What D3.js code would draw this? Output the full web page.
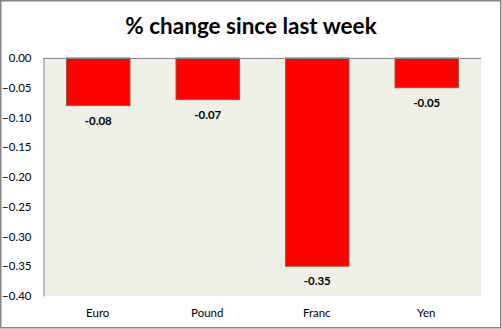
<!DOCTYPE html>
<html>
<head>
<meta charset="utf-8">
<script src="https://cdn.jsdelivr.net/npm/d3@7"></script>
<style>
  html, body { margin: 0; padding: 0; background: #fff; }
  svg { display: block; }
</style>
</head>
<body>
<svg id="chart" width="502" height="329"></svg>
<script>
// Weekly percentage change per currency
const categories = ["Euro", "Pound", "Franc", "Yen"];
const values = [-0.08, -0.07, -0.35, -0.05];
const yTicks = [0, -0.05, -0.10, -0.15, -0.20, -0.25, -0.30, -0.35, -0.40];
const title = "% change since last week";

const W = 502, H = 329;
const plot = { left: 43, right: 481, top: 58, bottom: 296 };
const font = "Lato, 'Open Sans', sans-serif";

const svg = d3.select("#chart");

// outer frame
svg.append("rect")
  .attr("x", 0.75).attr("y", 0.75)
  .attr("width", W - 2).attr("height", H - 2)
  .attr("fill", "#fff")
  .attr("stroke", "#868686").attr("stroke-width", 1.5);

// title
svg.append("text")
  .attr("x", W / 2).attr("y", 34)
  .attr("text-anchor", "middle")
  .attr("font-family", font)
  .attr("font-weight", "bold")
  .attr("font-size", 22.5)
  .attr("fill", "#000")
  .text(title);

const x = d3.scaleBand()
  .domain(categories)
  .range([plot.left, plot.right])
  .paddingInner(0.42)
  .paddingOuter(0.21);

const y = d3.scaleLinear()
  .domain([-0.4, 0])
  .range([plot.bottom, plot.top]);

// plot background
svg.append("rect")
  .attr("x", plot.left).attr("y", plot.top)
  .attr("width", plot.right - plot.left)
  .attr("height", plot.bottom - plot.top)
  .attr("fill", "#eef0e8");

// bars
svg.append("g").selectAll("rect")
  .data(categories)
  .join("rect")
  .attr("x", d => x(d) + 0.5)
  .attr("y", y(0))
  .attr("width", x.bandwidth())
  .attr("height", (d, i) => y(values[i]) - y(0))
  .attr("fill", "#ff0000")
  .attr("stroke", "#9c5a3c")
  .attr("stroke-width", 1);

// value labels beneath each bar
svg.append("g").selectAll("text")
  .data(categories)
  .join("text")
  .attr("x", d => x(d) + x.bandwidth() / 2 + 0.5)
  .attr("y", (d, i) => y(values[i]) + 19)
  .attr("text-anchor", "middle")
  .attr("font-family", font)
  .attr("font-weight", "bold")
  .attr("font-size", 11.5)
  .attr("fill", "#000")
  .text((d, i) => values[i].toFixed(2));

// y axis
const yAxis = d3.axisLeft(y)
  .tickValues(yTicks)
  .tickSize(0)
  .tickPadding(12)
  .tickFormat(d3.format(".2f"));

const gy = svg.append("g")
  .attr("transform", `translate(${plot.left + 0.5},0)`)
  .call(yAxis);
gy.select(".domain").attr("stroke", "#868686").attr("stroke-width", 1);
gy.selectAll("text")
  .attr("font-family", font)
  .attr("font-size", 11.5)
  .attr("fill", "#000");

// zero baseline
svg.append("line")
  .attr("x1", plot.left).attr("x2", plot.right)
  .attr("y1", y(0) + 0.5).attr("y2", y(0) + 0.5)
  .attr("stroke", "#868686").attr("stroke-width", 1);

// category labels
svg.append("g").selectAll("text")
  .data(categories)
  .join("text")
  .attr("x", d => x(d) + x.bandwidth() / 2)
  .attr("y", 317)
  .attr("text-anchor", "middle")
  .attr("font-family", font)
  .attr("font-size", 11.5)
  .attr("fill", "#000")
  .text(d => d);
</script>
</body>
</html>
